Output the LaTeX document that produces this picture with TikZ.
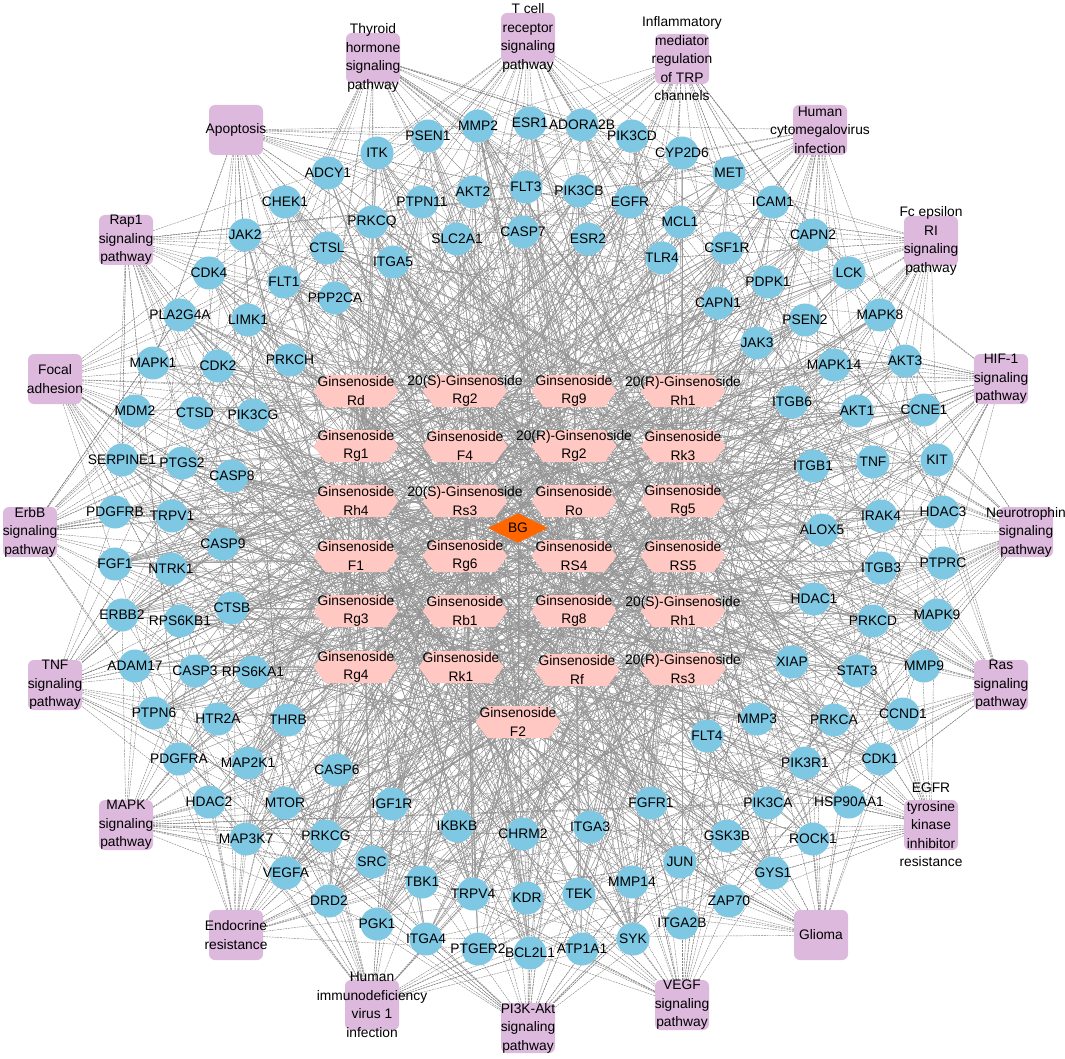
\documentclass[tikz,border=0pt]{standalone}
\usepackage{fontspec}
\setmainfont{Liberation Sans}
\usetikzlibrary{shapes.geometric,shapes.symbols}
\definecolor{genec}{RGB}{126,200,227}
\definecolor{pathc}{RGB}{221,185,221}
\definecolor{ginc}{RGB}{255,200,194}
\definecolor{bgc}{RGB}{255,102,0}
\definecolor{edgec}{RGB}{130,130,130}
\definecolor{cedgec}{RGB}{150,150,150}
\pgfdeclarelayer{edgelayer}
\pgfsetlayers{edgelayer,main}
\tikzset{
  lbl/.style={font=\fontsize{13.8}{18.5}\selectfont, text=black, inner sep=0pt, align=center},
  gene/.style={circle, fill=genec, minimum size=33pt, inner sep=0pt},
  pbox/.style={rectangle, rounded corners=6pt, fill=pathc, minimum width=54pt, minimum height=50pt, inner sep=0pt},
  gin/.style={signal, signal to=east and west, signal pointer angle=106, fill=ginc, minimum width=85pt, minimum height=32pt, inner sep=0pt},
  bgnode/.style={diamond, fill=bgc, minimum width=60pt, minimum height=24pt, inner sep=0pt, font=\fontsize{13.8}{18.5}\selectfont},
  pedge/.style={draw=edgec, line width=0.4pt, dash pattern=on 2pt off 0.8pt},
  cedge/.style={draw=cedgec, line width=0.5pt},
}
\begin{document}
\begin{tikzpicture}[x=1pt,y=-1pt]
\useasboundingbox (0,0) rectangle (1065,1059);
% pathways
\foreach \x/\y/\txt [count=\i] in {
 236/130/{Apoptosis},
 373/58/{Thyroid\\hormone\\signaling\\pathway},
 528/38/{T cell\\receptor\\signaling\\pathway},
 682/59/{Inflammatory\\mediator\\regulation\\of TRP\\channels},
 820/130/{Human\\cytomegalovirus\\infection},
 931/241/{Fc epsilon\\RI\\signaling\\pathway},
 1001/379/{HIF-1\\signaling\\pathway},
 1026/532/{Neurotrophin\\signaling\\pathway},
 1001/685/{Ras\\signaling\\pathway},
 931/825/{EGFR\\tyrosine\\kinase\\inhibitor\\resistance},
 821/935/{Glioma},
 682/1005/{VEGF\\signaling\\pathway},
 528/1028/{PI3K-Akt\\signaling\\pathway},
 372/1005/{Human\\immunodeficiency\\virus 1\\infection},
 236/935/{Endocrine\\resistance},
 126/825/{MAPK\\signaling\\pathway},
 55/685/{TNF\\signaling\\pathway},
 30/532/{ErbB\\signaling\\pathway},
 55/379/{Focal\\adhesion},
 126/240/{Rap1\\signaling\\pathway}}
 { \node[pbox, label={[lbl]center:\txt}] (p\i) at (\x,\y) {}; }
% genes
\foreach \n/\x/\y [count=\i] in {
 ADCY1/328/173, CHEK1/285/202, JAK2/245/235, CTSL/327/248, CDK4/209/273,
 FLT1/284/282, PPP2CA/335/298, PLA2G4A/180/315, LIMK1/248/320, ITK/377/153,
 PSEN1/428/136, MMP2/478/126, ESR1/530/123, ADORA2B/582/125, PIK3CD/632/136,
 CYP2D6/682/153, AKT2/473/192, PTPN11/422/202, FLT3/526/187, PIK3CB/579/191,
 EGFR/630/202, PRKCQ/372/222, MCL1/680/222, CASP7/523/232, SLC2A1/457/239,
 ESR2/588/239, ITGA5/393/262, TLR4/662/258, MET/729/173, ICAM1/773/202,
 CAPN2/813/235, CSF1R/727/248, LCK/849/273, PDPK1/768/282, CAPN1/718/303,
 PSEN2/805/320, MAPK8/880/315, JAK3/757/343, MAPK1/153/363, CDK2/218/366,
 PRKCH/290/360, MDM2/135/411, CTSD/195/413, PIK3CG/253/415, SERPINE1/122/460,
 PTGS2/182/463, CASP8/232/476, PDGFRB/115/512, TRPV1/172/516, CASP9/223/544,
 FGF1/115/564, NTRK1/171/569, ERBB2/122/615, RPS6KB1/180/621, CTSB/232/608,
 ADAM17/135/666, CASP3/195/671, RPS6KA1/253/672, MAPK14/834/365, AKT3/905/361,
 ITGB6/792/402, AKT1/857/411, CCNE1/924/410, ITGB1/813/466, TNF/873/462,
 KIT/937/460, IRAK4/881/516, HDAC3/943/512, ALOX5/822/530, ITGB3/881/568,
 PTPRC/943/563, HDAC1/814/599, PRKCD/873/621, MAPK9/937/615, XIAP/792/662,
 STAT3/857/671, MMP9/924/666, PTPN6/154/713, HTR2A/218/719, THRB/288/720,
 PDGFRA/179/759, MAP2K1/248/763, CASP6/337/770, HDAC2/209/802, MTOR/285/803,
 MAP3K7/246/839, PRKCG/326/836, VEGFA/286/873, DRD2/329/901, IGF1R/392/804,
 FGFR1/651/803, IKBKB/457/826, CHRM2/523/834, ITGA3/590/827, SRC/372/862,
 JUN/680/862, TBK1/422/882, TRPV4/473/894, KDR/527/898, TEK/579/894,
 MMP14/632/882, PGK1/377/924, ITGA4/426/939, PTGER2/478/949, BCL2L1/530/953,
 ATP1A1/582/949, SYK/633/939, ITGA2B/682/923, MMP3/757/719, PRKCA/834/720,
 CCND1/903/714, PIK3R1/805/763, CDK1/880/759, PIK3CA/768/803, HSP90AA1/849/802,
 GSK3B/727/836, ROCK1/813/839, GYS1/773/873, ZAP70/729/901, FLT4/707/736}
 { \node[gene, alias=g\i, label={[lbl]center:\n}] (\n) at (\x,\y) {}; }
% ginsenosides
\foreach \x/\y/\txt [count=\i] in {
 356/391/{Ginsenoside\\Rd}, 465/391/{20(S)-Ginsenoside\\Rg2}, 574/391/{Ginsenoside\\Rg9}, 683/391/{20(R)-Ginsenoside\\Rh1},
 356/446/{Ginsenoside\\Rg1}, 465/446/{Ginsenoside\\F4}, 574/446/{20(R)-Ginsenoside\\Rg2}, 683/446/{Ginsenoside\\Rk3},
 356/501/{Ginsenoside\\Rh4}, 465/501/{20(S)-Ginsenoside\\Rs3}, 574/501/{Ginsenoside\\Ro}, 683/501/{Ginsenoside\\Rg5},
 356/556/{Ginsenoside\\F1}, 465/556/{Ginsenoside\\Rg6}, 574/556/{Ginsenoside\\RS4}, 683/556/{Ginsenoside\\RS5},
 356/611/{Ginsenoside\\Rg3}, 465/611/{Ginsenoside\\Rb1}, 574/611/{Ginsenoside\\Rg8}, 683/611/{20(S)-Ginsenoside\\Rh1},
 356/667/{Ginsenoside\\Rg4}, 461/667/{Ginsenoside\\Rk1}, 577/670/{Ginsenoside\\Rf}, 683/669/{20(R)-Ginsenoside\\Rs3},
 518/722/{Ginsenoside\\F2}}
 { \node[gin, label={[lbl]center:\txt}] (c\i) at (\x,\y) {}; }
\node[bgnode] (BG) at (518,528) {BG};
% edges
\begin{pgfonlayer}{edgelayer}
\fill[white] (0,0) rectangle (1065,1059);
\pgfmathsetseed{4242}
\foreach \p in {1,...,20}{
  \foreach \k in {1,...,30}{
    \pgfmathrandominteger{\g}{1}{120}
    \draw[pedge] (p\p) -- (g\g);
  }
}
\foreach \c in {1,...,25}{
  \draw[cedge] (BG) -- (c\c);
  \foreach \k in {1,...,42}{
    \pgfmathrandominteger{\g}{1}{120}
    \draw[cedge] (c\c) -- (g\g);
  }
}
\end{pgfonlayer}
\end{tikzpicture}
\end{document}
